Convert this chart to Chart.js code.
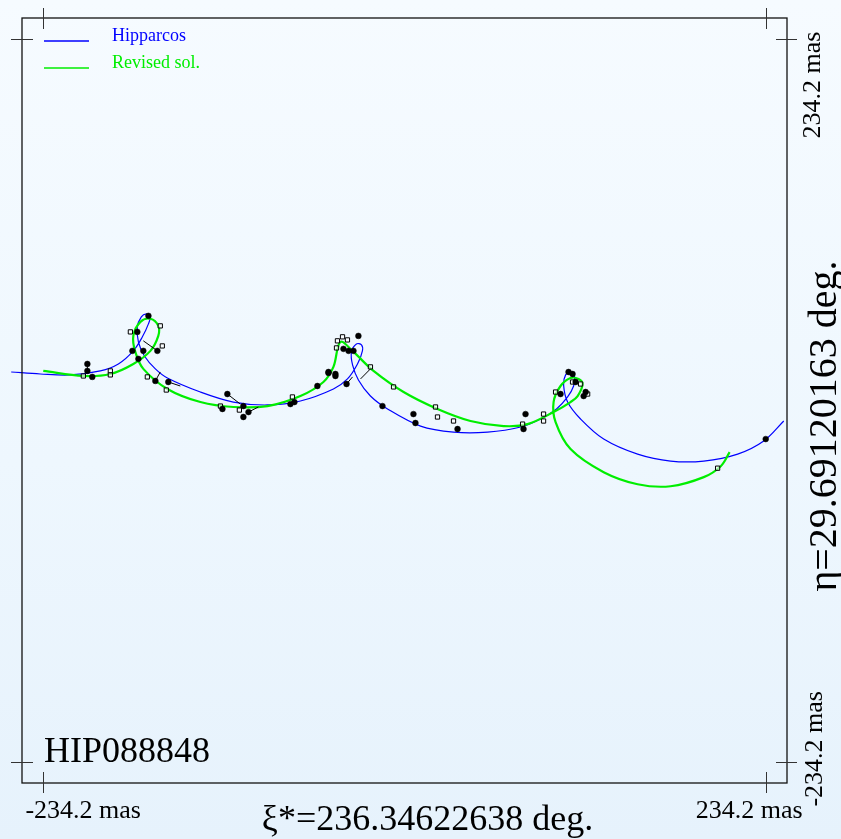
<!DOCTYPE html>
<html>
<head>
<meta charset="utf-8">
<script src="https://cdn.jsdelivr.net/npm/chart.js@4.4.1/dist/chart.umd.min.js"></script>
<style>
  html, body { margin: 0; padding: 0; }
  body {
    width: 841px; height: 839px; overflow: hidden;
    background: linear-gradient(to bottom, #f6fbff 0%, #eef7fe 55%, #e6f2fc 100%);
  }
  #wrap { position: relative; width: 841px; height: 839px; }
</style>
</head>
<body>
<div id="wrap"><canvas id="orbit" width="841" height="839"></canvas></div>
<script>
// tangent-plane offsets in mas (xi* to the right, eta up)
const starName = 'HIP088848';
const xiLabel = 'ξ*=236.34622638 deg.';
const etaLabel = 'η=29.69120163 deg.';
const tickValues = [-234.2, 234.2];
const axisLimit = 248.1;

// Hipparcos solution track
const hipX = [-255.1, -236.2, -216.8, -197.3, -185.6, -175.9, -170.0, -166.1, -164.8, -167.4, -170.7, -173.3, -172.6, -168.7, -161.6, -153.8, -132.4, -111.0, -88.9, -67.5, -46.1, -37.0, -30.5, -27.3, -27.9, -31.2, -34.4, -33.7, -29.9, -22.1, -11.0, 10.4, 31.8, 53.9, 75.3, 88.3, 98.6, 105.8, 109.7, 110.3, 107.7, 104.5, 103.2, 105.8, 114.2, 129.2, 151.2, 172.6, 194.1, 216.1, 233.0, 246.0];
const hipY = [18.5, 17.2, 16.6, 19.2, 23.7, 32.2, 41.3, 49.7, 54.9, 56.2, 54.3, 47.8, 38.0, 28.9, 20.5, 14.6, 5.5, -1.0, -2.9, -0.3, 7.5, 14.0, 23.7, 32.2, 36.1, 36.7, 31.5, 23.1, 13.3, 2.9, -5.5, -16.6, -20.5, -20.5, -17.2, -12.0, -5.5, 2.3, 9.4, 15.3, 18.5, 16.6, 10.1, -1.0, -12.0, -25.0, -34.8, -39.3, -39.3, -34.8, -26.3, -13.3];

// revised solution track
const revX = [-234.3, -208.3, -190.8, -175.9, -164.8, -159.7, -159.7, -164.8, -171.3, -175.9, -174.6, -169.4, -153.8, -132.4, -111.0, -88.9, -67.5, -52.6, -46.1, -41.5, -33.1, -20.1, -0.6, 21.4, 42.8, 64.3, 79.8, 96.7, 107.7, 112.3, 115.5, 112.9, 107.7, 101.2, 96.7, 98.0, 107.7, 129.2, 151.2, 172.6, 194.1, 205.1, 210.9];
const revY = [19.2, 15.9, 17.2, 23.7, 32.2, 41.9, 48.4, 53.0, 51.0, 41.9, 31.5, 20.5, 7.5, -1.0, -4.2, -3.6, 2.9, 12.0, 21.8, 38.0, 31.5, 19.2, 5.5, -5.5, -13.3, -16.6, -15.3, -7.5, -1.0, 2.9, 10.7, 14.0, 14.6, 9.4, -1.0, -14.0, -31.5, -46.5, -54.3, -55.6, -49.7, -42.6, -33.5];

// observations: open squares and filled dots
const sqX = [-208.3, -190.8, -190.8, -177.8, -158.4, -157.1, -166.8, -154.5, -119.4, -107.1, -72.7, -43.5, -40.2, -37.0, -44.1, -22.1, -7.1, 20.1, 21.4, 31.8, 76.6, 90.2, 90.2, 98.0, 109.0, 114.2, 118.8, 203.1];
const sqY = [15.9, 19.2, 16.6, 44.5, 48.4, 35.4, 15.3, 6.8, -3.6, -6.2, 2.3, 38.7, 41.3, 39.3, 34.1, 21.8, 8.8, -4.2, -10.7, -13.3, -15.3, -8.8, -13.3, 5.5, 12.0, 10.7, 4.2, -43.9];
const dotX = [-205.7, -205.7, -202.5, -173.3, -166.1, -160.3, -176.5, -169.4, -172.6, -161.6, -153.2, -114.9, -118.1, -104.5, -101.2, -104.5, -74.0, -71.4, -56.5, -49.3, -44.8, -29.9, -39.6, -36.3, -33.1, -49.3, -44.8, -37.6, -14.3, 5.8, 7.1, 34.4, 78.5, 77.2, 101.2, 106.4, 109.0, 111.0, 116.2, 117.5, 234.3];
const dotY = [23.7, 19.2, 15.3, 44.5, 54.9, 32.2, 32.2, 32.2, 27.0, 12.7, 12.0, 4.2, -5.5, -3.6, -7.5, -10.7, -2.3, -1.0, 9.4, 17.9, 17.2, 41.9, 33.5, 32.2, 32.2, 18.5, 15.9, 10.7, -3.6, -8.8, -14.6, -18.5, -8.8, -18.5, 4.2, 18.5, 17.2, 12.0, 2.9, 5.5, -25.0];

// residual segments, pairs separated by null
const segX = [-114.9, -106.5, null, -101.2, -94.8, null, -169.4, -160.3, null, -161.6, -158.4, null, -153.2, -145.4, null, -37.6, -33.7, null, -28.5, -22.1, null, -205.7, -205.7];
const segY = [4.2, -2.3, null, -7.5, -4.2, null, 38.7, 32.2, null, 12.7, 18.5, null, 12.0, 9.4, null, 10.7, 15.3, null, 14.0, 20.5, null, 25.0, 17.5];

function pts(xs, ys) {
  return xs.map((x, i) => ({ x: x, y: ys[i] }));
}

const serif = '"Liberation Serif", "DejaVu Serif", serif';

// frame, corner ticks, labels and the legend are drawn by hand
const framePlugin = {
  id: 'frame',
  afterDatasetsDraw(chart) {
    const { ctx, chartArea: a, scales } = chart;
    const xs = scales.x, ys = scales.y;
    ctx.save();

    ctx.strokeStyle = '#111';
    ctx.lineWidth = 1.3;
    ctx.strokeRect(a.left, a.top, a.right - a.left, a.bottom - a.top);

    ctx.strokeStyle = '#333';
    ctx.lineWidth = 1;
    ctx.beginPath();
    tickValues.forEach(v => {
      const px = Math.round(xs.getPixelForValue(v)) + 0.5;
      ctx.moveTo(px, a.top - 10); ctx.lineTo(px, a.top + 11);
      ctx.moveTo(px, a.bottom - 11); ctx.lineTo(px, a.bottom + 10);
      const py = Math.round(ys.getPixelForValue(v)) + 0.5;
      ctx.moveTo(a.left - 11, py); ctx.lineTo(a.left + 11, py);
      ctx.moveTo(a.right - 11, py); ctx.lineTo(a.right + 10, py);
    });
    ctx.stroke();

    ctx.fillStyle = '#000';
    ctx.font = '26px ' + serif;
    ctx.textBaseline = 'alphabetic';
    const xl = xs.getPixelForValue(tickValues[0]);
    const xr = xs.getPixelForValue(tickValues[1]);
    ctx.textAlign = 'left';
    ctx.fillText(tickValues[0] + ' mas', xl - 18, a.bottom + 35);
    ctx.textAlign = 'right';
    ctx.fillText(tickValues[1] + ' mas', xr + 37, a.bottom + 35);

    const yt = ys.getPixelForValue(tickValues[1]);
    const yb = ys.getPixelForValue(tickValues[0]);
    ctx.save();
    ctx.translate(a.right + 33, yt + 99);
    ctx.rotate(-Math.PI / 2);
    ctx.textAlign = 'left';
    ctx.fillText(tickValues[1] + ' mas', 0, 0);
    ctx.restore();
    ctx.save();
    ctx.translate(a.right + 35, yb + 45);
    ctx.rotate(-Math.PI / 2);
    ctx.textAlign = 'left';
    ctx.fillText(tickValues[0] + ' mas', 0, 0);
    ctx.restore();

    ctx.font = '36px ' + serif;
    ctx.textAlign = 'center';
    ctx.fillText(xiLabel, (a.left + a.right) / 2 + 23, a.bottom + 47);
    ctx.save();
    ctx.font = '40px ' + serif;
    ctx.translate(a.right + 49, 426);
    ctx.rotate(-Math.PI / 2);
    ctx.fillText(etaLabel, 0, 0);
    ctx.restore();

    ctx.textAlign = 'left';
    ctx.fillText(starName, a.left + 22, a.bottom - 21);

    // legend
    ctx.font = '18px ' + serif;
    const tracks = chart.data.datasets.filter(d => d.showLine);
    tracks.forEach((d, i) => {
      const y = a.top + 23 + i * 27;
      ctx.strokeStyle = d.borderColor;
      ctx.lineWidth = 1.4;
      ctx.beginPath();
      ctx.moveTo(a.left + 22, y);
      ctx.lineTo(a.left + 67, y);
      ctx.stroke();
      ctx.fillStyle = d.borderColor;
      ctx.fillText(d.label, a.left + 90, y);
    });

    ctx.restore();
  }
};

new Chart(document.getElementById('orbit'), {
  type: 'scatter',
  data: {
    datasets: [
      {
        label: 'dots', data: pts(dotX, dotY),
        pointStyle: 'circle', pointRadius: 2.9,
        backgroundColor: '#000', borderColor: '#000', borderWidth: 0.5,
        order: 1
      },
      {
        label: 'squares', data: pts(sqX, sqY),
        pointStyle: 'rect', pointRadius: 3,
        backgroundColor: 'rgba(255,255,255,0.6)', borderColor: '#000', borderWidth: 1,
        order: 2
      },
      {
        label: 'Hipparcos', data: pts(hipX, hipY), showLine: true,
        borderColor: '#0000ff', borderWidth: 1.2, pointRadius: 0,
        tension: 0.35, clip: false, order: 4
      },
      {
        label: 'Revised sol.', data: pts(revX, revY), showLine: true,
        borderColor: '#00ee00', borderWidth: 2.2, pointRadius: 0,
        tension: 0.35, clip: false, order: 3
      }
    ]
  },
  options: {
    responsive: false,
    animation: false,
    layout: { padding: { left: 22, top: 18, right: 54, bottom: 56 } },
    plugins: { legend: { display: false }, tooltip: { enabled: false } },
    scales: {
      x: { type: 'linear', min: -axisLimit, max: axisLimit, display: false },
      y: { type: 'linear', min: -axisLimit, max: axisLimit, display: false }
    }
  },
  plugins: [framePlugin, {
    // short residual strokes between paired points
    id: 'residuals',
    afterDatasetsDraw(chart) {
      const { ctx } = chart;
      const xs = chart.scales.x, ys = chart.scales.y;
      ctx.save();
      ctx.strokeStyle = '#000';
      ctx.lineWidth = 1;
      ctx.beginPath();
      for (let i = 0; i + 1 < segX.length; i += 3) {
        ctx.moveTo(xs.getPixelForValue(segX[i]), ys.getPixelForValue(segY[i]));
        ctx.lineTo(xs.getPixelForValue(segX[i + 1]), ys.getPixelForValue(segY[i + 1]));
      }
      ctx.stroke();
      ctx.restore();
    }
  }]
});
</script>
</body>
</html>
